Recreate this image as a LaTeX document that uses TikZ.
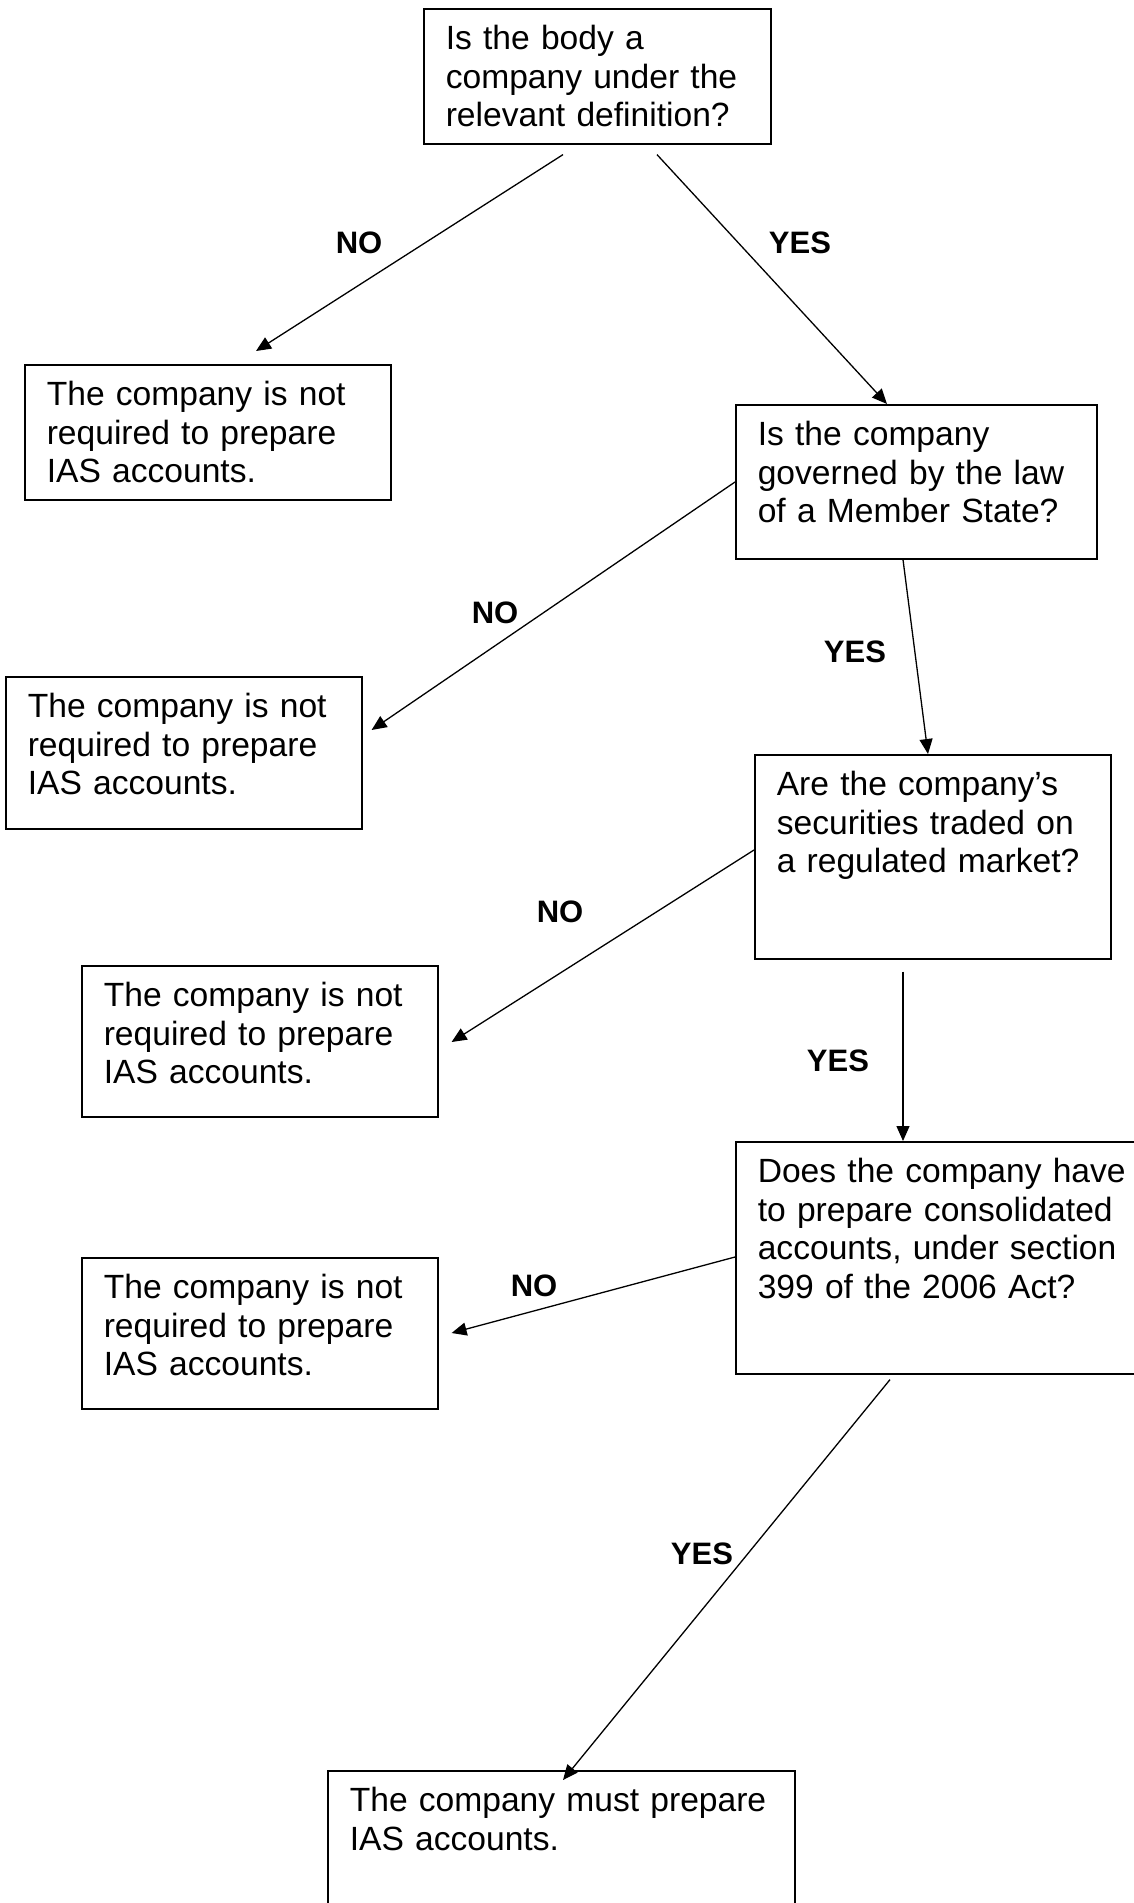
\documentclass[tikz,border=0pt]{standalone}
\usepackage{fontspec}
\setmainfont{Liberation Sans}
\usetikzlibrary{arrows.meta}
\begin{document}
\begin{tikzpicture}[x=0.5pt, y=-0.5pt,
    box/.style={draw, line width=0.8pt, anchor=north west, align=left, inner xsep=11pt, inner ysep=0pt, text height=20.5pt, font=\fontsize{16.8}{19.2}\selectfont},
    arr/.style={-{Triangle[length=7.5pt,width=6.5pt]}, line width=0.65pt},
    lab/.style={font=\bfseries\fontsize{15.5}{18}\selectfont}]
    \useasboundingbox (0,0) rectangle (1134,1903);
    % questions on the right
    \node [box, text width=151.5pt, text depth=47pt] (q1) at (423,8) {Is the body a\\company under the\\relevant definition?};
    \node [box, text width=158.5pt, text depth=56.5pt] (q2) at (735,404) {Is the company\\governed by the law\\of a Member State?};
    \node [box, text width=156pt, text depth=81.5pt] (q3) at (754,754) {Are the company’s\\securities traded on\\a regulated market?};
    \node [box, text width=212pt, text depth=95.5pt] (q4) at (735,1141) {Does the company have\\to prepare consolidated\\accounts, under section\\399 of the 2006 Act?};
    % answers
    \node [box, text width=161pt, text depth=47pt] (n1) at (24,364) {The company is not\\required to prepare\\IAS accounts.};
    \node [box, text width=156pt, text depth=55.5pt] (n2) at (5,676) {The company is not\\required to prepare\\IAS accounts.};
    \node [box, text width=156pt, text depth=55pt] (n3) at (81,965) {The company is not\\required to prepare\\IAS accounts.};
    \node [box, text width=156pt, text depth=55pt] (n4) at (81,1257) {The company is not\\required to prepare\\IAS accounts.};
    \node [box, text width=211.5pt, text depth=70pt] (must) at (327,1770) {The company must prepare\\IAS accounts.};
    % connectors
    \draw [arr] ([shift={(140,10)}]q1.south west) -- ([shift={(232,-13)}]n1.north west);
    \draw [arr] ([shift={(234,10)}]q1.south west) -- ([shift={(152,0)}]q2.north west);
    \draw [arr] ([shift={(0,78)}]q2.north west) -- ([shift={(9,54)}]n2.north east);
    \draw [arr] ([shift={(168,0)}]q2.south west) -- ([shift={(174,0)}]q3.north west);
    \draw [arr] ([shift={(0,96)}]q3.north west) -- ([shift={(13,77)}]n3.north east);
    \draw [arr] ([shift={(149,12)}]q3.south west) -- ([shift={(168,0)}]q4.north west);
    \draw [arr] ([shift={(0,116)}]q4.north west) -- ([shift={(13,76)}]n4.north east);
    \draw [arr] ([shift={(155,5)}]q4.south west) -- ([shift={(236,10)}]must.north west);
    % labels
    \node [lab] (no1) at (359,243) {NO};
    \node [lab] (yes1) at (800,243) {YES};
    \node [lab] (no2) at (495,613) {NO};
    \node [lab] (yes2) at (855,652) {YES};
    \node [lab] (no3) at (560,912) {NO};
    \node [lab] (yes3) at (838,1061) {YES};
    \node [lab] (no4) at (534,1286) {NO};
    \node [lab] (yes4) at (702,1554) {YES};
\end{tikzpicture}
\end{document}
